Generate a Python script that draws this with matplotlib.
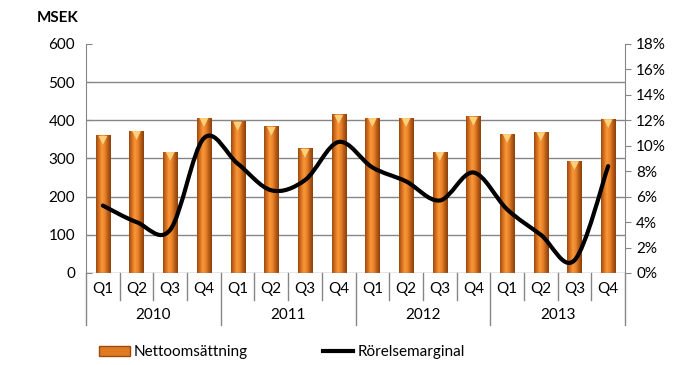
import numpy as np
import matplotlib
matplotlib.use("Agg")
import matplotlib.pyplot as plt
from matplotlib.path import Path
from matplotlib.patches import PathPatch, Patch
from matplotlib.lines import Line2D
from matplotlib.colors import LinearSegmentedColormap
import matplotlib.transforms as mtransforms

plt.rcParams['font.family'] = ['Lato', 'DejaVu Sans']

years = ["2010", "2011", "2012", "2013"]
quarters = ["Q1", "Q2", "Q3", "Q4"]
netto = [359, 372, 317, 406, 396, 383, 325, 414, 406, 406, 317, 409, 364, 369, 293, 403]
marginal = [5.3, 4.0, 3.4, 10.6, 8.6, 6.5, 7.3, 10.3, 8.3, 7.2, 5.7, 7.9, 5.0, 3.0, 1.0, 8.4]

grid_col = "#868686"
fig = plt.figure(figsize=(7, 3.65), dpi=100)
ax = fig.add_axes([0.1229, 0.2521, 0.77, 0.6274])
ax2 = ax.twinx()

x = np.arange(len(netto))
bars = ax.bar(x, netto, width=0.42, color="#e07a22", zorder=2)

# cylinder-like shading on each bar
cmap = LinearSegmentedColormap.from_list(
    "cyl", ["#9a4a10", "#d87020", "#f89838", "#e8822a", "#b85c16", "#8a400c"])
grad = np.linspace(0, 1, 64).reshape(1, -1)
for b in bars:
    x0, w, h = b.get_x(), b.get_width(), b.get_height()
    ax.imshow(grad, cmap=cmap, aspect="auto", extent=[x0, x0 + w, 0, h],
              zorder=3, interpolation="bilinear")
tri = mtransforms.offset_copy(ax.transData, fig=fig, x=0, y=-3.2, units="points")
ax.scatter(x, netto, marker="v", s=40, color="#fdd07a", edgecolors="none",
           transform=tri, zorder=4)

ax.set_xlim(-0.5, len(netto) - 0.5)
ax.set_ylim(0, 600)
ax.set_yticks(range(0, 601, 100))
for v in range(100, 600, 100):
    ax.axhline(v, color=grid_col, lw=1, zorder=1)
ax.set_xticks([])
for s in ["top", "right", "bottom"]:
    ax.spines[s].set_visible(False)
ax.spines["left"].set_color(grid_col)
ax.tick_params(axis="y", direction="in", length=4, color=grid_col,
               labelsize=11, pad=8, labelcolor="#000000")
ax.axhline(0, color=grid_col, lw=1, zorder=5)

# right axis: percent
ax2.set_ylim(0, 18)
ax2.set_yticks(range(0, 19, 2))
ax2.set_yticklabels([f"{v}%" for v in range(0, 19, 2)])
for s in ["top", "left", "bottom"]:
    ax2.spines[s].set_visible(False)
ax2.spines["right"].set_color(grid_col)
ax2.tick_params(axis="y", direction="out", length=4, color=grid_col,
                labelsize=11, pad=4)

# smooth line through margin points (Catmull-Rom as cubic Bezier segments)
pts = np.column_stack([x, marginal]).astype(float)
verts = [pts[0]]
codes = [Path.MOVETO]
for i in range(len(pts) - 1):
    p0 = pts[i - 1] if i > 0 else pts[i]
    p1, p2 = pts[i], pts[i + 1]
    p3 = pts[i + 2] if i + 2 < len(pts) else pts[i + 1]
    c1 = p1 + (p2 - p0) / 6.0
    c2 = p2 - (p3 - p1) / 6.0
    verts += [c1, c2, p2]
    codes += [Path.CURVE4] * 3
ax2.add_patch(PathPatch(Path(verts, codes), facecolor="none", edgecolor="black",
                        lw=3, capstyle="round", zorder=6))

# category axis below
trans = mtransforms.blended_transform_factory(ax.transData, ax.transAxes)
for i in range(len(netto) + 1):
    xb = i - 0.5
    bottom = -0.227 if i % 4 == 0 else -0.118
    ax.plot([xb, xb], [0, bottom], color=grid_col, lw=1, transform=trans,
            clip_on=False)
for i in x:
    ax.text(i, -0.07, quarters[i % 4], transform=trans, ha="center", va="center",
            fontsize=11)
for j, yr in enumerate(years):
    ax.text(j * 4 + 1.5, -0.183, yr, transform=trans, ha="center", va="center",
            fontsize=11)

fig.text(0.053, 0.95, "MSEK", fontsize=11, fontweight="bold", va="center")

handles = [Patch(facecolor="#e07a22", edgecolor="#9a4a10"),
           Line2D([], [], color="black", lw=3)]
fig.legend(handles, ["Nettoomsättning", "Rörelsemarginal"], loc="center left",
           bbox_to_anchor=(0.142, 0.035), ncol=2, frameon=False, fontsize=11,
           handlelength=2.0, handleheight=0.6, columnspacing=4.9, handletextpad=0.25,
           borderaxespad=0, borderpad=0)

fig.savefig("out.png", dpi=100)
